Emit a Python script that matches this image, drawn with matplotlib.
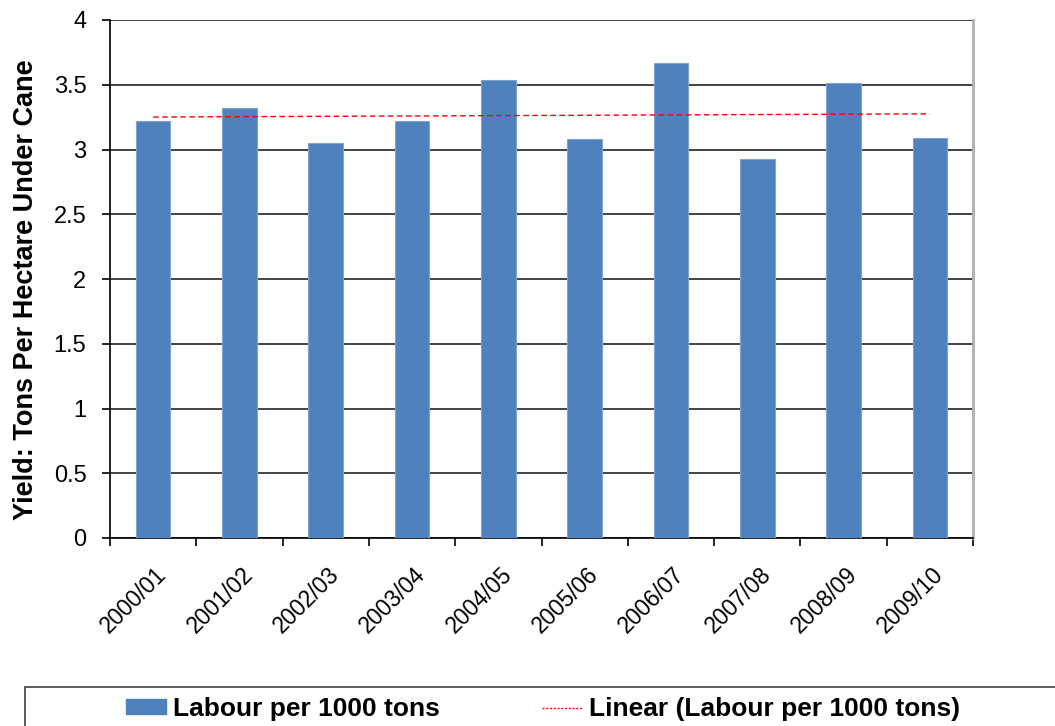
import numpy as np
import matplotlib
matplotlib.use("Agg")
import matplotlib.pyplot as plt
from matplotlib.patches import Rectangle
from matplotlib.lines import Line2D
import matplotlib.transforms as mtransforms

plt.rcParams['font.family'] = ['Liberation Sans', 'DejaVu Sans']

# data
seasons = ['2000/01', '2001/02', '2002/03', '2003/04', '2004/05',
           '2005/06', '2006/07', '2007/08', '2008/09', '2009/10']
labour = [3.22, 3.32, 3.05, 3.22, 3.54, 3.08, 3.67, 2.93, 3.51, 3.09]

fig = plt.figure(figsize=(10.55, 7.26), dpi=100)
ax = fig.add_axes([110/1055, 1 - 538/726, (973-110)/1055, (538-20)/726])

x = np.arange(len(seasons))
ax.bar(x, labour, width=0.4, color='#4f81bd', edgecolor='#7da3d1', linewidth=0.8, zorder=3)

# linear trend line like excel does
k, b = np.polyfit(x + 1, labour, 1)
ax.plot(x, k * (x + 1) + b, color='red', linestyle=(0, (4, 2.5)), linewidth=1, zorder=4)

ax.set_xlim(-0.5, len(seasons) - 0.5)
ax.set_ylim(0, 4)
ax.set_yticks(np.arange(0, 4.01, 0.5))
ax.set_yticklabels(['0', '0.5', '1', '1.5', '2', '2.5', '3', '3.5', '4'], fontsize=17)
ax.yaxis.grid(True, color='#222222', linewidth=1.2, zorder=0)

# category ticks sit between the bars
ax.set_xticks(np.arange(-0.5, len(seasons)), minor=False)
ax.set_xticklabels([])
ax.set_xticks(x, minor=True)
ax.set_xticklabels(seasons, minor=True, rotation=45, ha='right', rotation_mode='anchor', fontsize=16.5)
ax.tick_params(axis='x', which='minor', length=0, pad=18)
ax.tick_params(axis='x', which='major', length=6, width=1.2, color='black')
ax.tick_params(axis='y', length=6, width=1.2, color='black', pad=11)
offset = mtransforms.ScaledTranslation(2/100, 0, fig.dpi_scale_trans)
for lab in ax.get_xticklabels(minor=True):
    lab.set_transform(lab.get_transform() + offset)

ax.spines['top'].set_visible(False)
ax.spines['right'].set_color('#b0b0b0')
ax.spines['right'].set_linewidth(2)
ax.spines['left'].set_linewidth(1.2)
ax.spines['bottom'].set_linewidth(1.2)

ax.set_ylabel('Yield: Tons Per Hectare Under Cane', fontsize=19.5, fontweight='bold')
ax.yaxis.set_label_coords(-0.082, 0.479)

# legend box at the bottom
fig.patches.append(Rectangle((25/1055, -0.01), 1.0, (726-687)/726 + 0.01, transform=fig.transFigure,
                             fill=False, edgecolor='#404040', linewidth=1.2))
handles = [Rectangle((0, 0), 1, 1, color='#4f81bd'),
           Line2D([0], [0], color='red', linestyle=(0, (1.5, 1.2)), linewidth=1)]
fig.legend(handles, ['Labour per 1000 tons', 'Linear (Labour per 1000 tons)'],
           loc='center left', bbox_to_anchor=(126/1055, 1 - 709/726), ncol=2, frameon=False,
           prop={'weight': 'bold', 'size': 19}, handlelength=1.52, handleheight=0.5,
           handletextpad=0.27, columnspacing=3.86, borderpad=0, borderaxespad=0)

fig.savefig('out.png', dpi=100)
